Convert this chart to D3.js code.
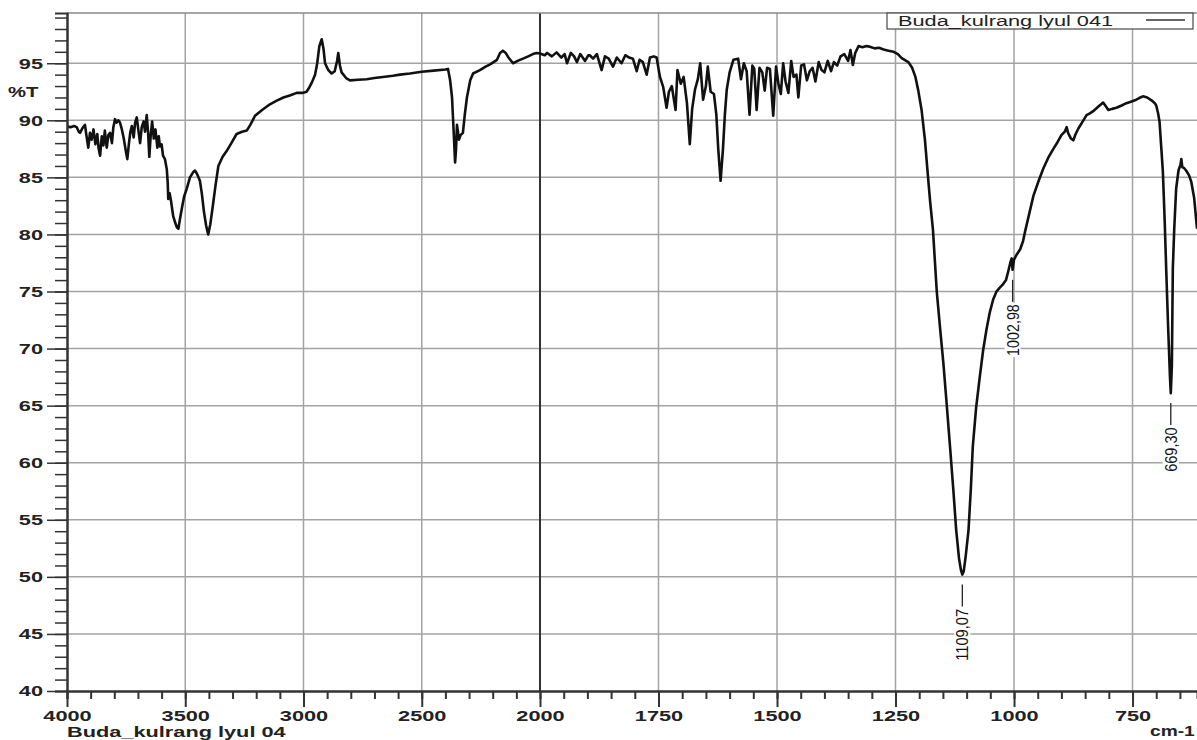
<!DOCTYPE html>
<html>
<head>
<meta charset="utf-8">
<script src="https://cdn.jsdelivr.net/npm/d3@7"></script>
<style>
  body { margin: 0; background: #fff; }
  svg { display: block; font-family: "Liberation Sans", Arial, sans-serif; }
</style>
</head>
<body>
<div id="chart"></div>
<script>
// FTIR spectrum, wavenumber (cm-1) vs %T
const wavenumber = [
  4000, 3985, 3970, 3959, 3950, 3945, 3935, 3924, 3918, 3910, 3903, 3896, 3888, 3880, 3872, 3866,
  3860, 3853, 3846, 3840, 3832, 3825, 3818, 3810, 3804, 3797, 3790, 3783, 3776, 3768, 3760, 3752,
  3745, 3738, 3732, 3726, 3718, 3712, 3705, 3698, 3691, 3684, 3676, 3670, 3663, 3657, 3652, 3646,
  3640, 3633, 3626, 3618, 3612, 3607, 3600, 3594, 3586, 3578, 3574, 3572, 3566, 3560, 3551, 3542,
  3535, 3529, 3522, 3515, 3505, 3494, 3480, 3465, 3459, 3450, 3438, 3430, 3421, 3412, 3403, 3394,
  3384, 3372, 3360, 3342, 3325, 3305, 3283, 3260, 3240, 3225, 3205, 3175, 3142, 3115, 3085, 3055,
  3029, 3005, 2987, 2975, 2965, 2951, 2942, 2933, 2923, 2915, 2909, 2895, 2881, 2868, 2858, 2853,
  2846, 2839, 2820, 2803, 2770, 2733, 2700, 2664, 2622, 2592, 2550, 2500, 2450, 2400, 2389, 2380,
  2372, 2365, 2359, 2355, 2351, 2347, 2343, 2336, 2326, 2318, 2309, 2295, 2283, 2254, 2230, 2211,
  2182, 2169, 2157, 2145, 2135, 2114, 2090, 2072, 2050, 2030, 2015, 2000, 1990, 1985, 1975, 1965,
  1955, 1948, 1943, 1935, 1928, 1922, 1915, 1905, 1898, 1895, 1888, 1880, 1870, 1863, 1855, 1846,
  1838, 1828, 1820, 1812, 1804, 1796, 1790, 1783, 1775, 1768, 1760, 1754, 1747, 1740, 1733, 1728,
  1722, 1714, 1710, 1703, 1697, 1690, 1684, 1679, 1673, 1667, 1662, 1656, 1650, 1646, 1640, 1633,
  1628, 1624, 1619, 1614, 1610, 1606, 1600, 1592, 1582, 1576, 1570, 1564, 1558, 1552, 1548, 1543,
  1537, 1531, 1526, 1521, 1515, 1508, 1502, 1497, 1492, 1487, 1482, 1476, 1470, 1465, 1459, 1455,
  1449, 1443, 1437, 1431, 1425, 1419, 1412, 1406, 1400, 1393, 1386, 1380, 1373, 1366, 1358, 1350,
  1345, 1340, 1335, 1328, 1320, 1311, 1304, 1294, 1285, 1275, 1265, 1254, 1245, 1237, 1223, 1215,
  1208, 1202, 1195, 1188, 1182, 1177, 1171, 1163, 1156, 1149, 1142, 1135, 1128, 1122, 1116, 1112,
  1109, 1106, 1102, 1096, 1091, 1087, 1080, 1072, 1065, 1058, 1051, 1044, 1037, 1031, 1024, 1017,
  1012, 1008, 1005, 1003, 1000, 995, 987, 981, 977, 968, 959, 948, 938, 928, 917, 908,
  900, 893, 889, 886, 880, 875, 870, 864, 855, 847, 840, 833, 822, 812, 806, 801,
  793, 784, 773, 763, 755, 745, 736, 728, 719, 710, 703, 700, 696, 693, 690, 686,
  682, 679, 675, 671, 669.3, 667, 665, 662, 658, 653, 649, 647, 645, 641, 637, 631,
  626, 620, 614
]
const transmittance = [
  89.45, 89.4, 89.5, 89.4, 89.0, 88.9, 89.3, 89.6, 88.7, 87.6, 88.9, 88.3, 89.2, 87.9, 88.8, 87.5,
  86.9, 88.6, 87.8, 89.1, 87.6, 88.7, 88.9, 88.0, 89.4, 90.1, 89.8, 90.0, 89.8, 89.2, 88.4, 87.4,
  86.6, 88.0, 89.0, 89.5, 88.5, 89.8, 90.25, 89.1, 88.0, 89.4, 89.9, 89.0, 90.45, 88.9, 86.8, 88.7,
  89.9, 88.4, 89.2, 87.6, 88.6, 87.7, 87.9, 86.9, 86.6, 85.7, 84.5, 83.1, 83.6, 82.9, 81.6, 81.0,
  80.6, 80.5, 81.4, 82.2, 83.3, 84.0, 85.0, 85.5, 85.6, 85.3, 84.7, 83.6, 82.0, 80.8, 80.0, 80.9,
  82.4, 84.3, 86.0, 86.8, 87.3, 88.0, 88.8, 89.0, 89.1, 89.6, 90.4, 90.9, 91.4, 91.7, 92.0, 92.2,
  92.4, 92.4, 92.5, 92.9, 93.3, 94.0, 95.0, 96.5, 97.1, 96.2, 95.0, 94.4, 94.1, 94.3, 95.2, 95.9,
  94.8, 94.2, 93.7, 93.5, 93.55, 93.6, 93.7, 93.8, 93.9, 94.0, 94.1, 94.25, 94.35, 94.45, 94.5, 93.5,
  92.0, 89.0, 86.3, 87.5, 89.6, 89.0, 88.3, 88.7, 88.9, 90.5, 92.0, 93.5, 94.1, 94.4, 94.7, 94.9,
  95.3, 95.9, 96.1, 95.9, 95.55, 95.0, 95.25, 95.4, 95.6, 95.8, 95.9, 95.85, 95.7, 95.9, 95.6, 95.95,
  95.5, 95.8, 95.0, 95.9, 95.6, 95.1, 95.8, 95.2, 95.7, 95.7, 95.4, 95.8, 94.4, 95.6, 95.4, 94.7,
  95.5, 95.0, 95.7, 95.5, 95.4, 94.3, 95.3, 95.1, 94.0, 95.5, 95.6, 95.5, 93.8, 92.9, 91.1, 92.5,
  93.0, 90.9, 94.4, 93.2, 93.8, 91.5, 87.9, 91.0, 92.7, 93.6, 95.0, 91.8, 93.0, 94.7, 92.5, 92.3,
  90.5, 87.5, 84.7, 87.5, 90.5, 92.7, 94.2, 95.3, 95.4, 93.6, 95.0, 94.3, 90.5, 94.8, 94.5, 90.9,
  94.6, 94.2, 92.6, 94.6, 94.5, 90.4, 94.7, 93.2, 92.3, 95.0, 93.4, 92.4, 95.2, 93.8, 94.0, 92.0,
  94.8, 94.9, 93.5, 94.3, 94.6, 93.4, 95.1, 94.4, 94.2, 95.2, 94.3, 95.1, 94.8, 95.6, 95.8, 95.2,
  96.15, 94.85, 95.9, 96.5, 96.4, 96.5, 96.45, 96.3, 96.35, 96.2, 96.1, 96.0, 95.8, 95.45, 95.1, 94.6,
  93.8, 92.6, 90.9, 88.3, 85.3, 82.9, 80.4, 75.0, 71.8, 68.7, 65.1, 61.4, 57.6, 54.1, 51.6, 50.6,
  50.2, 50.5, 51.8, 54.1, 57.8, 61.4, 64.8, 67.6, 69.9, 71.7, 73.2, 74.3, 75.0, 75.3, 75.6, 76.0,
  76.8, 77.5, 77.9, 76.9, 77.8, 78.2, 78.7, 79.4, 80.2, 81.8, 83.4, 84.7, 85.8, 86.7, 87.5, 88.1,
  88.7, 89.0, 89.4, 88.9, 88.4, 88.25, 88.8, 89.3, 89.9, 90.45, 90.6, 90.8, 91.2, 91.55, 91.2, 90.9,
  91.0, 91.1, 91.3, 91.5, 91.6, 91.75, 91.95, 92.1, 92.0, 91.75, 91.5, 91.3, 90.6, 89.85, 88.0, 85.5,
  81.0, 77.0, 72.0, 67.5, 66.1, 68.5, 77.0, 80.5, 84.0, 85.6, 86.1, 86.6, 85.9, 85.8, 85.6, 85.2,
  84.6, 83.2, 80.5
]
const spectrum = wavenumber.map((w, i) => ({ w: w, t: transmittance[i] }))

const peaks = [
  { w: 1109.07, t: 50.2, label: '1109,07' },
  { w: 1002.98, t: 76.9, label: '1002,98' },
  { w: 669.30, t: 66.1, label: '669,30' }
]

const xMajor = [4000, 3500, 3000, 2500, 2000, 1750, 1500, 1250, 1000, 750]
const xMinor = d3.range(4000, 2000, -100).concat(d3.range(2000, 614, -50))
const yMajor = [40, 45, 50, 55, 60, 65, 70, 75, 80, 85, 90, 95]
const yMinor = d3.range(40, 100, 1)

const width = 1197, height = 740
const plotLeft = 67, plotRight = 1197, plotTop = 13, plotBottom = 691
const stretch = 1.45   // the printout is stretched sideways, so is its lettering

// the spectrometer doubles the scale below 2000 cm-1
const x = d3.scaleLinear().domain([4000, 2000, 614]).range([plotLeft, 540, plotRight])
const y = d3.scaleLinear().domain([40, 99.4]).range([plotBottom, plotTop])

const svg = d3.select('#chart').append('svg').attr('width', width).attr('height', height)

svg.append('clipPath').attr('id', 'plot').append('rect').
    attr('x', plotLeft).attr('y', plotTop).attr('width', plotRight - plotLeft).attr('height', plotBottom - plotTop)

// grid
svg.append('g').selectAll('line').
    data(yMajor.filter(v => v > 40)).
    enter().append('line').
    attr('x1', plotLeft).attr('x2', plotRight).
    attr('y1', d => y(d)).attr('y2', d => y(d)).
    attr('stroke', '#a3a3a3').attr('stroke-width', 1.5)
svg.append('g').selectAll('line').
    data(xMajor.filter(v => v < 4000)).
    enter().append('line').
    attr('x1', d => x(d)).attr('x2', d => x(d)).
    attr('y1', plotTop).attr('y2', plotBottom).
    attr('stroke', d => d === 2000 ? '#333' : '#a3a3a3').
    attr('stroke-width', d => d === 2000 ? 2 : 1.5)

// top frame
svg.append('line').attr('x1', plotLeft).attr('x2', plotRight).attr('y1', plotTop).attr('y2', plotTop).
    attr('stroke', '#888').attr('stroke-width', 1.5)

// spectrum
const line = d3.line().x(d => x(d.w)).y(d => y(d.t))
svg.append('path').
    attr('d', line(spectrum)).
    attr('clip-path', 'url(#plot)').
    attr('fill', 'none').
    attr('stroke', '#111').
    attr('stroke-width', 2.6).
    attr('stroke-linejoin', 'round')

// peak labels
const pk = svg.append('g').selectAll('g').data(peaks).enter().append('g')
pk.append('line').
    attr('x1', d => x(d.w)).attr('x2', d => x(d.w)).
    attr('y1', d => y(d.t) + 10).attr('y2', d => y(d.t) + 32).
    attr('stroke', '#222').attr('stroke-width', 1.3)
pk.append('rect').
    attr('x', d => x(d.w) - 8).attr('width', 16).
    attr('y', d => y(d.t) + 33).attr('height', d => d.label.length * 7.5 + 2).
    attr('fill', '#fff')
pk.append('text').
    attr('transform', d => `translate(${x(d.w) + 6},${y(d.t) + 34 + d.label.length * 3.75}) rotate(-90)`).
    attr('text-anchor', 'middle').
    attr('font-size', 17).
    attr('textLength', d => d.label.length * 7.4).
    attr('lengthAdjust', 'spacingAndGlyphs').
    attr('fill', '#111').
    text(d => d.label)

// axes
const xAxis = svg.append('g').attr('transform', `translate(0,${plotBottom})`)
xAxis.call(d3.axisBottom(x).tickValues(xMinor).tickSize(8).tickFormat(''))
xAxis.append('g').call(d3.axisBottom(x).tickValues(xMajor).tickSize(16).tickSizeOuter(0).tickPadding(3).tickFormat(d3.format('d')))
xAxis.selectAll('.domain').attr('stroke', '#333').attr('stroke-width', 2)
xAxis.selectAll('line').attr('stroke', '#333').attr('stroke-width', 2)
xAxis.selectAll('text').attr('font-size', 15).attr('font-weight', 'bold').attr('fill', '#222').
    attr('transform', `scale(${stretch},1)`)

const yAxis = svg.append('g').attr('transform', `translate(${plotLeft},0)`)
yAxis.call(d3.axisLeft(y).tickValues(yMinor).tickSize(12).tickFormat(''))
yAxis.append('g').call(d3.axisLeft(y).tickValues(yMajor).tickSize(20).tickSizeOuter(0).tickPadding(4))
yAxis.selectAll('.domain').attr('stroke', '#333').attr('stroke-width', 2)
yAxis.selectAll('line').attr('stroke', '#333').attr('stroke-width', 1.5)
yAxis.selectAll('text').attr('font-size', 15).attr('font-weight', 'bold').attr('fill', '#222').
    attr('x', -24 / stretch).attr('transform', `scale(${stretch},1)`)

function label (px, py, size, weight, str, sx = stretch) {
    svg.append('text').
        attr('transform', `translate(${px},${py}) scale(${sx},1)`).
        attr('font-size', size).attr('font-weight', weight).attr('fill', '#222').
        text(str)
}
label(8, y(92.5) + 5, 14, 'bold', '%T')
label(plotLeft, 737, 15, 'bold', 'Buda_kulrang lyul 04')
label(1150, 736, 15, 'bold', 'cm-1', 1.28)

// legend
svg.append('rect').attr('x', 887).attr('y', 13).attr('width', 306).attr('height', 16).
    attr('fill', '#fff').attr('stroke', '#555').attr('stroke-width', 1.3)
label(898, 26, 15, 'normal', 'Buda_kulrang lyul 041')
svg.append('line').attr('x1', 1146).attr('x2', 1185).attr('y1', 20).attr('y2', 20).
    attr('stroke', '#333').attr('stroke-width', 1.3)
</script>
</body>
</html>
